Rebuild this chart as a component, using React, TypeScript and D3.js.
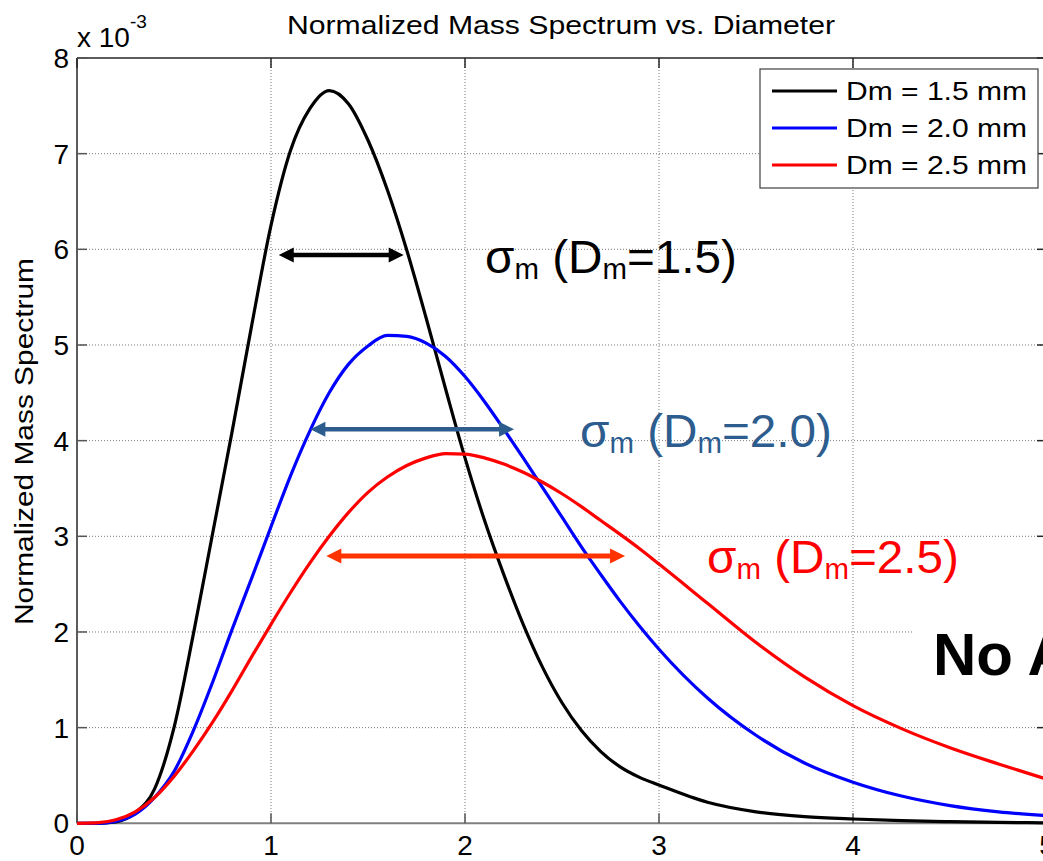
import React from "react";
import * as d3 from "d3";

const diameters = [0, 0.1, 0.2, 0.3, 0.4, 0.5, 0.6, 0.7, 0.8, 0.9, 1.0, 1.1, 1.2, 1.3, 1.4, 1.5, 1.6, 1.7, 1.8, 1.9, 2.0, 2.1, 2.2, 2.3, 2.4, 2.5, 2.6, 2.7, 2.8, 2.9, 3.0, 3.25, 3.5, 3.75, 4.0, 4.25, 4.5, 4.75, 5.0];

const dm15 = [0, 0, 0.015, 0.11, 0.36, 1.0, 1.98, 3.04, 4.1, 5.2, 6.25, 7.03, 7.47, 7.66, 7.52, 7.14, 6.62, 5.99, 5.28, 4.54, 3.82, 3.17, 2.6, 2.08, 1.63, 1.26, 0.97, 0.75, 0.59, 0.48, 0.4, 0.22, 0.12, 0.07, 0.045, 0.028, 0.017, 0.01, 0.005];
const dm20 = [0, 0, 0.02, 0.095, 0.27, 0.54, 0.97, 1.48, 2.03, 2.56, 3.1, 3.63, 4.1, 4.5, 4.8, 4.99, 5.1, 5.09, 5.02, 4.88, 4.67, 4.41, 4.12, 3.82, 3.51, 3.2, 2.89, 2.6, 2.32, 2.06, 1.82, 1.31, 0.92, 0.63, 0.43, 0.285, 0.185, 0.12, 0.08];
const dm25 = [0, 0.004, 0.037, 0.12, 0.27, 0.49, 0.76, 1.06, 1.39, 1.74, 2.08, 2.41, 2.72, 3.0, 3.25, 3.46, 3.62, 3.74, 3.82, 3.865, 3.86, 3.82, 3.755, 3.67, 3.565, 3.445, 3.31, 3.165, 3.02, 2.87, 2.71, 2.3, 1.89, 1.53, 1.23, 0.99, 0.79, 0.62, 0.46];

const seriesNames = ["Dm = 1.5 mm", "Dm = 2.0 mm", "Dm = 2.5 mm"];
const seriesColors = ["#000000", "#0000ff", "#ff0000"];
const seriesValues = [dm15, dm20, dm25];

const xTicks = [0, 1, 2, 3, 4, 5];
const yTicks = [0, 1, 2, 3, 4, 5, 6, 7, 8];

// sigma arrows: [from D, to D, level (x1e-3)]
const arrowFrom = [1.04, 1.203, 1.285];
const arrowTo = [1.684, 2.253, 2.825];
const arrowLevel = [5.94, 4.12, 2.794];
const arrowColors = ["#000000", "#2d5d8e", "#ff3300"];
const sigmaLabels = ["1.5", "2.0", "2.5"];
const labelColors = ["#000000", "#2d5d8e", "#ff0000"];

const W = 1043;
const H = 861;
const L = 77, R = 1047, T = 58, B = 823.3;

export default function App() {
  const x = d3.scaleLinear().domain([0, 5]).range([L, R]);
  const y = d3.scaleLinear().domain([0, 8]).range([B, T]);
  const line = d3
    .line<number>()
    .x((_, i) => x(diameters[i]))
    .y((v) => y(v))
    .curve(d3.curveMonotoneX);

  const font = "'Liberation Sans', Arial, Helvetica, sans-serif";
  const gridColor = "#7a7a7a";
  const axisColor = "#262626";

  const labelX = [485, 580, 707];
  const labelY = [273, 447, 573];

  return (
    <svg
      width={W}
      height={H}
      style={{ position: "fixed", left: 0, top: 0, background: "#fff" }}
      fontFamily={font}
    >
      <rect x={0} y={0} width={W} height={H} fill="#fff" />
      {/* grid */}
      <g stroke={gridColor} strokeWidth={1} strokeDasharray="1,2">
        {xTicks.filter((t) => t > 0 && t < 5).map((t) => (
          <line key={"gx" + t} x1={x(t)} x2={x(t)} y1={T} y2={B} />
        ))}
        {yTicks.filter((t) => t > 0 && t < 8).map((t) => (
          <line key={"gy" + t} x1={L} x2={R} y1={y(t)} y2={y(t)} />
        ))}
      </g>
      {/* axes box */}
      <line x1={L} x2={R} y1={T} y2={T} stroke={axisColor} strokeWidth={1.5} />
      <line x1={L} x2={L} y1={T} y2={B} stroke={axisColor} strokeWidth={1.5} />
      <line x1={R} x2={R} y1={T} y2={B} stroke={axisColor} strokeWidth={1.5} />
      <line x1={L} x2={R} y1={B} y2={B} stroke="#808080" strokeWidth={2} />
      <g stroke={axisColor} strokeWidth={1.5}>
        {xTicks.map((t) => (
          <g key={"tx" + t}>
            <line x1={x(t)} x2={x(t)} y1={B} y2={B - 10} stroke="#555" />
            <line x1={x(t)} x2={x(t)} y1={T} y2={T + 10} />
          </g>
        ))}
        {yTicks.map((t) => (
          <g key={"ty" + t}>
            <line x1={L} x2={L + 10} y1={y(t)} y2={y(t)} stroke="#555" />
            <line x1={R} x2={R - 10} y1={y(t)} y2={y(t)} />
          </g>
        ))}
      </g>
      {/* curves */}
      {seriesValues.map((vals, i) => (
        <path key={"c" + i} d={line(vals) || ""} fill="none" stroke={seriesColors[i]} strokeWidth={3.2} strokeLinejoin="round" />
      ))}
      {/* tick labels */}
      <g fontSize={28} fill="#000">
        {xTicks.map((t) => (
          <text key={"lx" + t} x={x(t)} y={855} textAnchor="middle">{t}</text>
        ))}
        {yTicks.map((t) => (
          <text key={"ly" + t} x={69} y={y(t) + 10} textAnchor="end">{t}</text>
        ))}
      </g>
      <text x={77} y={47} fontSize={28}>x 10</text>
      <text x={130} y={28} fontSize={19}>-3</text>
      {/* title */}
      <text x={287} y={34} fontSize={26} textLength={548} lengthAdjust="spacingAndGlyphs">
        Normalized Mass Spectrum vs. Diameter
      </text>
      {/* y label */}
      <text transform="translate(33,625) rotate(-90)" fontSize={26} textLength={367} lengthAdjust="spacingAndGlyphs">
        Normalized Mass Spectrum
      </text>
      {/* legend */}
      <rect x={760} y={69} width={278} height={119} fill="#fff" stroke="#404040" strokeWidth={1.2} />
      {seriesNames.map((n, i) => {
        const ly = 91 + i * 37;
        return (
          <g key={"lg" + i}>
            <line x1={772} x2={837} y1={ly} y2={ly} stroke={seriesColors[i]} strokeWidth={3.2} />
            <text x={846} y={ly + 9} fontSize={25} textLength={181} lengthAdjust="spacingAndGlyphs">{n}</text>
          </g>
        );
      })}
      {/* sigma arrows */}
      {arrowFrom.map((a, i) => {
        const x1 = x(a), x2 = x(arrowTo[i]), yy = y(arrowLevel[i]);
        const hl = 15, hw = 7.5;
        return (
          <g key={"ar" + i} fill={arrowColors[i]}>
            <line x1={x1 + hl - 1} x2={x2 - hl + 1} y1={yy} y2={yy} stroke={arrowColors[i]} strokeWidth={i === 2 ? 5 : 4.5} />
            <path d={`M${x1},${yy} L${x1 + hl},${yy - hw} L${x1 + hl},${yy + hw} Z`} />
            <path d={`M${x2},${yy} L${x2 - hl},${yy - hw} L${x2 - hl},${yy + hw} Z`} />
          </g>
        );
      })}
      {/* sigma labels */}
      {sigmaLabels.map((s, i) => (
        <text key={"sl" + i} x={labelX[i]} y={labelY[i]} fontSize={47} fill={labelColors[i]} textLength={252} lengthAdjust="spacingAndGlyphs">
          σ<tspan fontSize={29} dy={6}>m</tspan><tspan dy={-6}>{" (D"}</tspan><tspan fontSize={29} dy={6}>m</tspan><tspan dy={-6}>{"=" + s + ")"}</tspan>
        </text>
      ))}
      {/* No A overlay */}
      <rect x={912} y={612} width={140} height={90} fill="#fff" />
      <text x={933} y={675} fontSize={60} fontWeight="bold">No A</text>
    </svg>
  );
}
